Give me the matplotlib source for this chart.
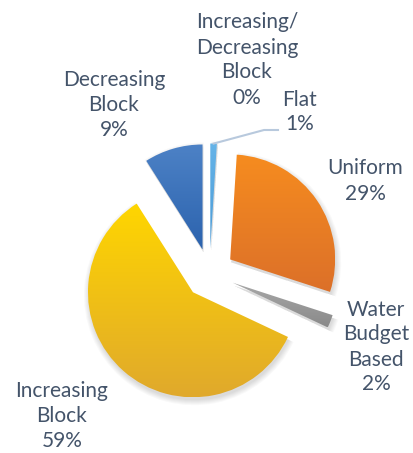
import numpy as np
import matplotlib.pyplot as plt
from matplotlib.patches import Wedge
from matplotlib.colors import LinearSegmentedColormap

plt.rcParams['font.family'] = ['Lato', 'DejaVu Sans']

# rate structure shares
names = ['Increasing/\nDecreasing\nBlock', 'Flat', 'Uniform', 'Water\nBudget\nBased',
         'Increasing\nBlock', 'Decreasing\nBlock']
values = [0, 1, 29, 2, 59, 9]
top_colors = ['#8fb3de', '#66b4e8', '#f68c1f', '#a8a8a8', '#ffd600', '#4d82c6']
bottom_colors = ['#6d94c8', '#4a9ad6', '#dc7029', '#8a8a8a', '#e0a92c', '#2c63ae']

# label centres in pixel coords (x, y from top)
label_pos = [(247, 58), (300, 110), (365, 179), (376, 345), (62, 414), (114, 103)]

W, H = 414, 453
R = 105
LINE = 25  # px between label lines
fig = plt.figure(figsize=(W / 100, H / 100), dpi=100)
ax = fig.add_axes([0, 0, 1, 1])

# explode is in data units here (pixels)
wedges, _ = ax.pie(values, explode=[25] * len(values), startangle=90, counterclock=False,
                   radius=R, center=(209.5, H - 273.5))

for w, v, c0, c1 in zip(wedges, values, top_colors, bottom_colors):
    w.set_facecolor('none')
    w.set_edgecolor('none')
    if v == 0:
        continue
    # soft drop shadow
    for s in np.linspace(0, 5, 6):
        sh = Wedge((w.center[0] + 1, w.center[1] - 3), w.r + s, w.theta1, w.theta2,
                   facecolor='black', edgecolor='none', alpha=0.025, zorder=0)
        ax.add_patch(sh)
    # vertical gradient clipped to the slice
    ext = w.get_path().get_extents()
    cmap = LinearSegmentedColormap.from_list('g', [c0, c1])
    grad = np.linspace(0, 1, 256).reshape(-1, 1)
    im = ax.imshow(grad, cmap=cmap, aspect='auto', origin='upper',
                   extent=(ext.x0, ext.x1, ext.y0, ext.y1), zorder=2)
    im.set_clip_path(w)

# leader line for the thin Flat slice
flat = wedges[1]
mid = np.deg2rad((flat.theta1 + flat.theta2) / 2)
px = flat.center[0] + flat.r * np.cos(mid)
py = flat.center[1] + flat.r * np.sin(mid)
ax.plot([px, 264, 278], [py, H - 130, H - 130], color='#b8c9dd', lw=1.5, zorder=3)

# each label line drawn on its own so blocks stay compact
for name, v, (x, y) in zip(names, values, label_pos):
    lines = f'{name}\n{v:.0f}%'.split('\n')
    n = len(lines)
    for i, line in enumerate(lines):
        ly = y + (i - (n - 1) / 2) * LINE
        ax.text(x, H - ly, line, ha='center', va='center_baseline',
                fontsize=15, color='#44546a', zorder=4)

ax.set_xlim(0, W)
ax.set_ylim(0, H)
ax.set_aspect('auto')
ax.axis('off')

fig.savefig('out.png', dpi=100)
